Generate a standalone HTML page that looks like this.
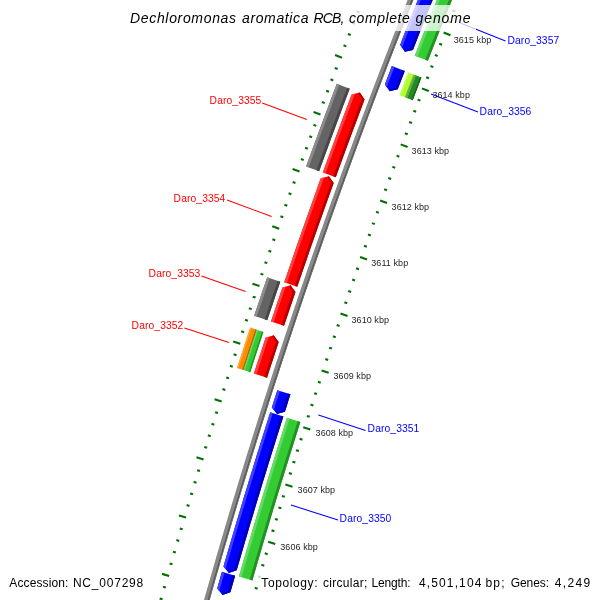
<!DOCTYPE html>
<html><head><meta charset="utf-8"><style>
html,body{margin:0;padding:0;background:#fff;}
svg{display:block;will-change:transform;}
text{font-family:"Liberation Sans",sans-serif;}
.tk{font-size:9px;fill:#1e1e1e;letter-spacing:0.07px;}
.lb{font-size:10.3px;letter-spacing:0.1px;}
.ti{font-size:14px;font-style:italic;fill:#000;}
.ft{font-size:12px;fill:#000;}
.acc{letter-spacing:0.48px;}
.topo{letter-spacing:0.68px;}
</style></head><body>
<svg width="600" height="600" viewBox="0 0 600 600">
<defs><clipPath id="c1"><path d="M439.24,-52.96 L436.89,-47.23 L434.54,-41.49 L432.21,-35.75 L429.88,-30.00 L427.55,-24.26 L425.23,-18.51 L422.92,-12.76 L420.61,-7.00 L418.31,-1.25 L416.01,4.51 L413.72,10.27 L411.44,16.03 L409.16,21.80 L406.89,27.57 L404.62,33.34 L402.36,39.11 L400.11,44.88 L404.80,51.85 L412.96,49.90 L415.21,44.13 L417.47,38.38 L419.73,32.62 L422.00,26.86 L424.27,21.11 L426.55,15.36 L428.83,9.62 L431.12,3.87 L433.42,-1.87 L435.72,-7.61 L438.03,-13.35 L440.35,-19.09 L442.67,-24.82 L444.99,-30.55 L447.32,-36.28 L449.66,-42.01 L452.00,-47.73 Z"/></clipPath><clipPath id="c2"><path d="M455.52,-46.29 L453.21,-40.64 L450.90,-34.99 L448.60,-29.34 L446.30,-23.68 L444.02,-18.02 L441.73,-12.36 L439.45,-6.70 L437.18,-1.04 L434.91,4.63 L432.65,10.30 L430.40,15.97 L428.15,21.64 L425.90,27.32 L423.66,33.00 L421.43,38.68 L419.21,44.36 L416.98,50.04 L414.77,55.73 L427.91,60.84 L430.12,55.17 L432.34,49.50 L434.56,43.83 L436.78,38.16 L439.02,32.50 L441.26,26.83 L443.50,21.17 L445.75,15.52 L448.01,9.86 L450.27,4.21 L452.54,-1.45 L454.81,-7.09 L457.09,-12.74 L459.37,-18.39 L461.66,-24.03 L463.96,-29.67 L466.26,-35.30 L468.57,-40.94 Z"/></clipPath><clipPath id="c3"><path d="M391.87,66.12 L389.53,72.21 L387.19,78.30 L384.86,84.39 L389.60,91.33 L397.75,89.32 L400.08,83.24 L402.41,77.16 L404.75,71.08 Z"/></clipPath><clipPath id="c4"><path d="M408.26,72.54 L406.08,78.19 L403.92,83.84 L401.75,89.49 L399.60,95.14 L406.18,97.65 L408.34,92.00 L410.50,86.36 L412.66,80.72 L414.84,75.08 Z"/></clipPath><clipPath id="c5"><path d="M414.84,75.08 L412.66,80.72 L410.50,86.36 L408.34,92.00 L406.18,97.65 L412.77,100.16 L414.92,94.52 L417.08,88.88 L419.24,83.25 L421.41,77.61 Z"/></clipPath><clipPath id="c6"><path d="M351.67,94.60 L359.83,92.54 L364.58,99.48 L362.33,105.45 L360.08,111.42 L357.84,117.40 L355.60,123.38 L353.37,129.36 L351.15,135.35 L348.93,141.34 L346.72,147.33 L344.52,153.32 L342.32,159.31 L340.13,165.31 L337.95,171.31 L335.77,177.31 L322.79,172.60 L324.98,166.59 L327.17,160.58 L329.36,154.57 L331.57,148.56 L333.78,142.56 L335.99,136.55 L338.21,130.55 L340.44,124.55 L342.67,118.56 L344.91,112.56 L347.16,106.57 L349.41,100.58 L351.67,94.60 Z"/></clipPath><clipPath id="c7"><path d="M336.73,83.79 L334.50,89.68 L332.28,95.58 L330.06,101.48 L327.85,107.39 L325.64,113.29 L323.44,119.20 L321.25,125.11 L319.06,131.02 L316.88,136.93 L314.70,142.85 L312.53,148.77 L310.37,154.69 L308.21,160.61 L306.06,166.54 L319.13,171.28 L321.27,165.36 L323.43,159.45 L325.59,153.55 L327.75,147.64 L329.92,141.74 L332.10,135.84 L334.28,129.94 L336.47,124.04 L338.66,118.15 L340.86,112.26 L343.07,106.37 L345.28,100.48 L347.50,94.59 L349.73,88.71 Z"/></clipPath><clipPath id="c8"><path d="M320.71,178.36 L328.84,176.18 L333.69,183.05 L331.62,188.79 L329.55,194.54 L327.49,200.29 L325.44,206.04 L323.39,211.79 L321.34,217.55 L319.30,223.30 L317.27,229.06 L315.25,234.82 L313.23,240.59 L311.21,246.35 L309.20,252.12 L307.20,257.89 L305.20,263.66 L303.21,269.43 L301.22,275.20 L299.24,280.98 L297.27,286.76 L284.21,282.31 L286.19,276.51 L288.17,270.72 L290.16,264.94 L292.16,259.15 L294.16,253.37 L296.17,247.58 L298.18,241.80 L300.20,236.03 L302.23,230.25 L304.26,224.48 L306.29,218.70 L308.34,212.93 L310.38,207.17 L312.44,201.40 L314.50,195.64 L316.56,189.88 L318.63,184.12 L320.71,178.36 Z"/></clipPath><clipPath id="c9"><path d="M282.43,287.53 L290.51,285.20 L295.49,291.97 L293.20,298.74 L290.91,305.51 L288.62,312.29 L286.35,319.06 L284.08,325.84 L270.99,321.48 L273.26,314.68 L275.54,307.89 L277.83,301.10 L280.13,294.31 L282.43,287.53 Z"/></clipPath><clipPath id="c10"><path d="M267.13,277.23 L264.94,283.66 L262.76,290.09 L260.59,296.52 L258.42,302.96 L256.26,309.40 L254.11,315.84 L267.29,320.24 L269.44,313.81 L271.60,307.39 L273.76,300.97 L275.93,294.55 L278.11,288.13 L280.29,281.71 Z"/></clipPath><clipPath id="c11"><path d="M265.59,337.76 L273.65,335.36 L278.69,342.09 L276.73,348.03 L274.78,353.98 L272.83,359.92 L270.89,365.87 L268.95,371.82 L267.02,377.77 L253.89,373.52 L255.82,367.56 L257.77,361.59 L259.71,355.63 L261.66,349.67 L263.62,343.71 L265.59,337.76 Z"/></clipPath><clipPath id="c12"><path d="M250.20,327.59 L248.30,333.35 L246.40,339.11 L244.50,344.87 L242.62,350.64 L240.73,356.41 L238.86,362.17 L236.99,367.94 L243.60,370.08 L245.47,364.32 L247.34,358.56 L249.22,352.80 L251.11,347.04 L253.00,341.28 L254.90,335.53 L256.80,329.77 Z"/></clipPath><clipPath id="c13"><path d="M256.80,329.77 L254.90,335.53 L253.00,341.28 L251.11,347.04 L249.22,352.80 L247.34,358.56 L245.47,364.32 L243.60,370.08 L250.21,372.23 L252.08,366.47 L253.95,360.71 L255.83,354.96 L257.71,349.21 L259.60,343.46 L261.50,337.71 L263.40,331.96 Z"/></clipPath><clipPath id="c14"><path d="M277.32,390.13 L275.46,395.90 L273.62,401.67 L271.77,407.45 L276.89,414.11 L284.92,411.64 L286.76,405.88 L288.60,400.12 L290.46,394.36 Z"/></clipPath><clipPath id="c15"><path d="M270.26,412.21 L268.38,418.12 L266.51,424.03 L264.65,429.94 L262.79,435.86 L260.94,441.78 L259.09,447.70 L257.25,453.62 L255.42,459.54 L253.59,465.47 L251.77,471.39 L249.96,477.32 L248.15,483.25 L246.34,489.19 L244.55,495.12 L242.76,501.06 L240.97,507.00 L239.19,512.94 L237.42,518.88 L235.65,524.82 L233.89,530.77 L232.14,536.71 L230.39,542.66 L228.64,548.61 L226.91,554.57 L225.18,560.52 L223.45,566.48 L228.75,572.99 L236.71,570.31 L238.43,564.37 L240.16,558.42 L241.89,552.49 L243.63,546.55 L245.37,540.61 L247.12,534.68 L248.88,528.75 L250.64,522.82 L252.41,516.89 L254.19,510.96 L255.97,505.04 L257.76,499.11 L259.55,493.19 L261.35,487.27 L263.15,481.36 L264.96,475.44 L266.78,469.53 L268.61,463.61 L270.43,457.70 L272.27,451.80 L274.11,445.89 L275.96,439.99 L277.81,434.08 L279.67,428.18 L281.54,422.28 L283.41,416.39 Z"/></clipPath><clipPath id="c16"><path d="M286.97,417.73 L285.11,423.59 L283.26,429.45 L281.41,435.31 L279.57,441.17 L277.73,447.04 L275.91,452.90 L274.08,458.77 L272.27,464.64 L270.45,470.52 L268.65,476.39 L266.85,482.27 L265.06,488.14 L263.27,494.02 L261.49,499.91 L259.71,505.79 L257.94,511.67 L256.18,517.56 L254.42,523.45 L252.67,529.34 L250.92,535.23 L249.18,541.13 L247.45,547.02 L245.72,552.92 L244.00,558.82 L242.28,564.72 L240.57,570.63 L238.87,576.53 L252.42,580.43 L254.12,574.54 L255.82,568.65 L257.54,562.77 L259.25,556.88 L260.98,551.00 L262.71,545.11 L264.44,539.23 L266.19,533.35 L267.93,527.48 L269.69,521.60 L271.45,515.73 L273.21,509.86 L274.98,503.99 L276.76,498.12 L278.54,492.25 L280.33,486.39 L282.13,480.52 L283.93,474.66 L285.74,468.80 L287.55,462.95 L289.37,457.09 L291.19,451.24 L293.02,445.39 L294.86,439.54 L296.70,433.69 L298.55,427.84 L300.41,422.00 Z"/></clipPath><clipPath id="c17"><path d="M221.90,571.85 L219.52,580.16 L217.14,588.46 L222.47,594.96 L230.41,592.25 L232.78,583.96 L235.16,575.67 Z"/></clipPath></defs>
<rect width="600" height="600" fill="#fff"/>
<path d="M422.89,-38.04 L420.63,-32.48 L418.38,-26.92 L416.13,-21.35 L413.89,-15.78 L411.66,-10.21 L409.43,-4.63 L407.21,0.94 L404.99,6.52 L402.78,12.10 L400.57,17.68 L398.37,23.27 L396.18,28.85 L393.98,34.44 L391.80,40.03 L389.62,45.63 L387.45,51.22 L385.28,56.82 L383.12,62.42 L380.96,68.02 L378.81,73.62 L376.66,79.23 L374.52,84.84 L372.39,90.45 L370.26,96.06 L368.13,101.67 L366.01,107.29 L363.90,112.91 L361.79,118.53 L359.69,124.15 L357.59,129.78 L355.50,135.40 L353.42,141.03 L351.34,146.66 L349.26,152.30 L347.20,157.93 L345.13,163.57 L343.07,169.21 L341.02,174.85 L338.98,180.49 L336.93,186.14 L334.90,191.78 L332.87,197.43 L330.85,203.08 L328.83,208.74 L326.81,214.39 L324.81,220.05 L322.80,225.71 L320.81,231.37 L318.82,237.03 L316.83,242.70 L314.85,248.36 L312.88,254.03 L310.91,259.70 L308.95,265.37 L306.99,271.05 L305.04,276.73 L303.09,282.40 L301.15,288.08 L299.21,293.77 L297.28,299.45 L295.36,305.14 L293.44,310.82 L291.53,316.51 L289.62,322.21 L287.72,327.90 L285.82,333.59 L283.93,339.29 L282.05,344.99 L280.17,350.69 L278.30,356.39 L276.43,362.10 L274.57,367.81 L272.71,373.51 L270.86,379.22 L269.01,384.94 L267.17,390.65 L265.34,396.37 L263.51,402.08 L261.69,407.80 L259.87,413.52 L258.06,419.25 L256.25,424.97 L254.45,430.70 L252.66,436.42 L250.87,442.15 L249.09,447.89 L247.31,453.62 L245.54,459.35 L243.77,465.09 L242.01,470.83 L240.25,476.57 L238.50,482.31 L236.76,488.06 L235.02,493.80 L233.29,499.55 L231.56,505.30 L229.84,511.05 L228.12,516.80 L226.41,522.55 L224.71,528.31 L223.01,534.07 L221.32,539.83 L219.63,545.59 L217.95,551.35 L216.27,557.11 L214.60,562.88 L212.94,568.65 L211.28,574.41 L209.63,580.18 L207.98,585.96 L206.34,591.73 L204.70,597.51 L203.07,603.28 L201.44,609.06 L199.83,614.84 L198.21,620.62 L196.60,626.41 L195.00,632.19 L193.40,637.98 L191.81,643.77 L197.02,645.19 L198.61,639.41 L200.21,633.63 L201.81,627.85 L203.41,622.07 L205.03,616.30 L206.64,610.52 L208.27,604.75 L209.90,598.98 L211.53,593.20 L213.17,587.44 L214.82,581.67 L216.47,575.90 L218.13,570.14 L219.79,564.38 L221.46,558.62 L223.13,552.86 L224.81,547.10 L226.50,541.35 L228.19,535.59 L229.89,529.84 L231.59,524.09 L233.30,518.34 L235.01,512.59 L236.73,506.85 L238.46,501.10 L240.19,495.36 L241.93,489.62 L243.67,483.88 L245.42,478.15 L247.17,472.41 L248.93,466.68 L250.70,460.95 L252.47,455.22 L254.24,449.49 L256.02,443.76 L257.81,438.04 L259.61,432.31 L261.40,426.59 L263.21,420.87 L265.02,415.16 L266.83,409.44 L268.66,403.73 L270.48,398.01 L272.31,392.30 L274.15,386.59 L276.00,380.89 L277.85,375.18 L279.70,369.48 L281.56,363.78 L283.43,358.08 L285.30,352.38 L287.18,346.68 L289.06,340.99 L290.95,335.30 L292.84,329.61 L294.74,323.92 L296.65,318.23 L298.56,312.55 L300.48,306.86 L302.40,301.18 L304.33,295.50 L306.26,289.83 L308.20,284.15 L310.14,278.48 L312.09,272.81 L314.05,267.14 L316.01,261.47 L317.98,255.80 L319.95,250.14 L321.93,244.48 L323.91,238.82 L325.90,233.16 L327.90,227.51 L329.90,221.85 L331.90,216.20 L333.91,210.55 L335.93,204.90 L337.95,199.26 L339.98,193.61 L342.01,187.97 L344.05,182.33 L346.10,176.69 L348.15,171.06 L350.20,165.42 L352.27,159.79 L354.33,154.16 L356.40,148.53 L358.48,142.91 L360.57,137.28 L362.66,131.66 L364.75,126.04 L366.85,120.42 L368.96,114.81 L371.07,109.19 L373.18,103.58 L375.31,97.97 L377.43,92.37 L379.57,86.76 L381.71,81.16 L383.85,75.56 L386.00,69.96 L388.15,64.36 L390.32,58.77 L392.48,53.17 L394.65,47.58 L396.83,42.00 L399.01,36.41 L401.20,30.83 L403.40,25.24 L405.59,19.66 L407.80,14.09 L410.01,8.51 L412.23,2.94 L414.45,-2.63 L416.67,-8.20 L418.91,-13.77 L421.14,-19.33 L423.39,-24.89 L425.63,-30.45 L427.89,-36.01 Z" fill="#888888"/>
<path d="M426.22,-36.69 L423.97,-31.13 L421.72,-25.57 L419.47,-20.00 L417.24,-14.44 L415.00,-8.87 L412.78,-3.30 L410.55,2.27 L408.34,7.85 L406.13,13.43 L403.92,19.00 L401.72,24.59 L399.53,30.17 L397.34,35.75 L395.15,41.34 L392.98,46.93 L390.80,52.52 L388.64,58.12 L386.48,63.71 L384.32,69.31 L382.17,74.91 L380.02,80.52 L377.88,86.12 L375.75,91.73 L373.62,97.34 L371.50,102.95 L369.38,108.56 L367.27,114.17 L365.16,119.79 L363.06,125.41 L360.97,131.03 L358.88,136.66 L356.79,142.28 L354.72,147.91 L352.64,153.54 L350.58,159.17 L348.51,164.80 L346.46,170.44 L344.41,176.08 L342.36,181.72 L340.32,187.36 L338.29,193.00 L336.26,198.65 L334.23,204.30 L332.22,209.95 L330.21,215.60 L328.20,221.25 L326.20,226.91 L324.20,232.56 L322.21,238.22 L320.23,243.88 L318.25,249.55 L316.28,255.21 L314.31,260.88 L312.35,266.55 L310.39,272.22 L308.44,277.89 L306.50,283.57 L304.56,289.25 L302.62,294.93 L300.69,300.61 L298.77,306.29 L296.85,311.97 L294.94,317.66 L293.04,323.35 L291.14,329.04 L289.24,334.73 L287.35,340.42 L285.47,346.12 L283.59,351.82 L281.72,357.52 L279.85,363.22 L277.99,368.92 L276.13,374.63 L274.28,380.33 L272.44,386.04 L270.60,391.75 L268.77,397.46 L266.94,403.18 L265.12,408.89 L263.30,414.61 L261.49,420.33 L259.69,426.05 L257.89,431.77 L256.09,437.50 L254.31,443.23 L252.52,448.95 L250.75,454.68 L248.98,460.42 L247.21,466.15 L245.45,471.88 L243.70,477.62 L241.95,483.36 L240.20,489.10 L238.47,494.84 L236.74,500.59 L235.01,506.33 L233.29,512.08 L231.57,517.83 L229.87,523.58 L228.16,529.33 L226.46,535.08 L224.77,540.84 L223.09,546.60 L221.41,552.36 L219.73,558.12 L218.06,563.88 L216.40,569.64 L214.74,575.41 L213.09,581.17 L211.44,586.94 L209.80,592.71 L208.16,598.49 L206.53,604.26 L204.91,610.03 L203.29,615.81 L201.68,621.59 L200.07,627.37 L198.47,633.15 L196.88,638.93 L195.29,644.72 L196.44,645.04 L198.03,639.25 L199.63,633.47 L201.23,627.69 L202.84,621.91 L204.45,616.13 L206.07,610.36 L207.69,604.58 L209.32,598.81 L210.95,593.04 L212.59,587.27 L214.24,581.50 L215.89,575.74 L217.55,569.97 L219.21,564.21 L220.88,558.45 L222.56,552.69 L224.24,546.93 L225.92,541.18 L227.62,535.42 L229.31,529.67 L231.02,523.92 L232.72,518.17 L234.44,512.42 L236.16,506.68 L237.88,500.93 L239.62,495.19 L241.35,489.45 L243.10,483.71 L244.84,477.97 L246.60,472.24 L248.36,466.50 L250.12,460.77 L251.89,455.04 L253.67,449.31 L255.45,443.58 L257.24,437.86 L259.03,432.13 L260.83,426.41 L262.64,420.69 L264.45,414.97 L266.26,409.26 L268.08,403.54 L269.91,397.83 L271.74,392.12 L273.58,386.41 L275.43,380.70 L277.28,375.00 L279.13,369.29 L280.99,363.59 L282.86,357.89 L284.73,352.19 L286.61,346.50 L288.49,340.80 L290.38,335.11 L292.27,329.42 L294.17,323.73 L296.08,318.04 L297.99,312.36 L299.91,306.67 L301.83,300.99 L303.76,295.31 L305.69,289.63 L307.63,283.96 L309.58,278.28 L311.53,272.61 L313.48,266.94 L315.44,261.27 L317.41,255.61 L319.38,249.94 L321.36,244.28 L323.35,238.62 L325.33,232.96 L327.33,227.31 L329.33,221.65 L331.34,216.00 L333.35,210.35 L335.36,204.70 L337.39,199.05 L339.42,193.41 L341.45,187.77 L343.49,182.13 L345.53,176.49 L347.58,170.85 L349.64,165.22 L351.70,159.58 L353.77,153.95 L355.84,148.32 L357.92,142.70 L360.00,137.07 L362.09,131.45 L364.19,125.83 L366.29,120.21 L368.39,114.60 L370.51,108.98 L372.62,103.37 L374.74,97.76 L376.87,92.15 L379.01,86.55 L381.14,80.94 L383.29,75.34 L385.44,69.74 L387.59,64.15 L389.76,58.55 L391.92,52.96 L394.09,47.37 L396.27,41.78 L398.45,36.19 L400.64,30.61 L402.84,25.02 L405.04,19.44 L407.24,13.87 L409.45,8.29 L411.67,2.72 L413.89,-2.85 L416.12,-8.42 L418.35,-13.99 L420.59,-19.56 L422.83,-25.12 L425.08,-30.68 L427.33,-36.24 Z" fill="#555555"/>
<path d="M427.33,-36.24 L425.08,-30.68 L422.83,-25.12 L420.59,-19.56 L418.35,-13.99 L416.12,-8.42 L413.89,-2.85 L411.67,2.72 L409.45,8.29 L407.24,13.87 L405.04,19.44 L402.84,25.02 L400.64,30.61 L398.45,36.19 L396.27,41.78 L394.09,47.37 L391.92,52.96 L389.76,58.55 L387.59,64.15 L385.44,69.74 L383.29,75.34 L381.14,80.94 L379.01,86.55 L376.87,92.15 L374.74,97.76 L372.62,103.37 L370.51,108.98 L368.39,114.60 L366.29,120.21 L364.19,125.83 L362.09,131.45 L360.00,137.07 L357.92,142.70 L355.84,148.32 L353.77,153.95 L351.70,159.58 L349.64,165.22 L347.58,170.85 L345.53,176.49 L343.49,182.13 L341.45,187.77 L339.42,193.41 L337.39,199.05 L335.36,204.70 L333.35,210.35 L331.34,216.00 L329.33,221.65 L327.33,227.31 L325.33,232.96 L323.35,238.62 L321.36,244.28 L319.38,249.94 L317.41,255.61 L315.44,261.27 L313.48,266.94 L311.53,272.61 L309.58,278.28 L307.63,283.96 L305.69,289.63 L303.76,295.31 L301.83,300.99 L299.91,306.67 L297.99,312.36 L296.08,318.04 L294.17,323.73 L292.27,329.42 L290.38,335.11 L288.49,340.80 L286.61,346.50 L284.73,352.19 L282.86,357.89 L280.99,363.59 L279.13,369.29 L277.28,375.00 L275.43,380.70 L273.58,386.41 L271.74,392.12 L269.91,397.83 L268.08,403.54 L266.26,409.26 L264.45,414.97 L262.64,420.69 L260.83,426.41 L259.03,432.13 L257.24,437.86 L255.45,443.58 L253.67,449.31 L251.89,455.04 L250.12,460.77 L248.36,466.50 L246.60,472.24 L244.84,477.97 L243.10,483.71 L241.35,489.45 L239.62,495.19 L237.88,500.93 L236.16,506.68 L234.44,512.42 L232.72,518.17 L231.02,523.92 L229.31,529.67 L227.62,535.42 L225.92,541.18 L224.24,546.93 L222.56,552.69 L220.88,558.45 L219.21,564.21 L217.55,569.97 L215.89,575.74 L214.24,581.50 L212.59,587.27 L210.95,593.04 L209.32,598.81 L207.69,604.58 L206.07,610.36 L204.45,616.13 L202.84,621.91 L201.23,627.69 L199.63,633.47 L198.03,639.25 L196.44,645.04 L197.02,645.19 L198.61,639.41 L200.21,633.63 L201.81,627.85 L203.41,622.07 L205.03,616.30 L206.64,610.52 L208.27,604.75 L209.90,598.98 L211.53,593.20 L213.17,587.44 L214.82,581.67 L216.47,575.90 L218.13,570.14 L219.79,564.38 L221.46,558.62 L223.13,552.86 L224.81,547.10 L226.50,541.35 L228.19,535.59 L229.89,529.84 L231.59,524.09 L233.30,518.34 L235.01,512.59 L236.73,506.85 L238.46,501.10 L240.19,495.36 L241.93,489.62 L243.67,483.88 L245.42,478.15 L247.17,472.41 L248.93,466.68 L250.70,460.95 L252.47,455.22 L254.24,449.49 L256.02,443.76 L257.81,438.04 L259.61,432.31 L261.40,426.59 L263.21,420.87 L265.02,415.16 L266.83,409.44 L268.66,403.73 L270.48,398.01 L272.31,392.30 L274.15,386.59 L276.00,380.89 L277.85,375.18 L279.70,369.48 L281.56,363.78 L283.43,358.08 L285.30,352.38 L287.18,346.68 L289.06,340.99 L290.95,335.30 L292.84,329.61 L294.74,323.92 L296.65,318.23 L298.56,312.55 L300.48,306.86 L302.40,301.18 L304.33,295.50 L306.26,289.83 L308.20,284.15 L310.14,278.48 L312.09,272.81 L314.05,267.14 L316.01,261.47 L317.98,255.80 L319.95,250.14 L321.93,244.48 L323.91,238.82 L325.90,233.16 L327.90,227.51 L329.90,221.85 L331.90,216.20 L333.91,210.55 L335.93,204.90 L337.95,199.26 L339.98,193.61 L342.01,187.97 L344.05,182.33 L346.10,176.69 L348.15,171.06 L350.20,165.42 L352.27,159.79 L354.33,154.16 L356.40,148.53 L358.48,142.91 L360.57,137.28 L362.66,131.66 L364.75,126.04 L366.85,120.42 L368.96,114.81 L371.07,109.19 L373.18,103.58 L375.31,97.97 L377.43,92.37 L379.57,86.76 L381.71,81.16 L383.85,75.56 L386.00,69.96 L388.15,64.36 L390.32,58.77 L392.48,53.17 L394.65,47.58 L396.83,42.00 L399.01,36.41 L401.20,30.83 L403.40,25.24 L405.59,19.66 L407.80,14.09 L410.01,8.51 L412.23,2.94 L414.45,-2.63 L416.67,-8.20 L418.91,-13.77 L421.14,-19.33 L423.39,-24.89 L425.63,-30.45 L427.89,-36.01 Z" fill="#6a6a6a"/>
<g stroke="#007000" stroke-width="2.1"><line x1="359.54" y1="12.44" x2="356.75" y2="11.34"/><line x1="355.11" y1="23.75" x2="352.32" y2="22.65"/><line x1="350.71" y1="35.06" x2="347.91" y2="33.98"/><line x1="346.32" y1="46.38" x2="343.52" y2="45.30"/><line x1="341.96" y1="57.72" x2="335.05" y2="55.07"/><line x1="337.62" y1="69.06" x2="334.82" y2="67.99"/><line x1="333.30" y1="80.41" x2="330.50" y2="79.34"/><line x1="329.01" y1="91.77" x2="326.20" y2="90.71"/><line x1="324.74" y1="103.13" x2="321.93" y2="102.08"/><line x1="320.49" y1="114.51" x2="313.56" y2="111.92"/><line x1="316.26" y1="125.89" x2="313.45" y2="124.85"/><line x1="312.06" y1="137.28" x2="309.24" y2="136.25"/><line x1="307.88" y1="148.68" x2="305.06" y2="147.65"/><line x1="303.72" y1="160.09" x2="300.90" y2="159.07"/><line x1="299.58" y1="171.51" x2="292.62" y2="168.99"/><line x1="295.47" y1="182.93" x2="292.65" y2="181.92"/><line x1="291.38" y1="194.36" x2="288.55" y2="193.36"/><line x1="287.31" y1="205.80" x2="284.48" y2="204.80"/><line x1="283.26" y1="217.25" x2="280.43" y2="216.26"/><line x1="279.24" y1="228.71" x2="272.26" y2="226.26"/><line x1="275.24" y1="240.17" x2="272.41" y2="239.19"/><line x1="271.26" y1="251.65" x2="268.43" y2="250.67"/><line x1="267.31" y1="263.13" x2="264.47" y2="262.15"/><line x1="263.37" y1="274.62" x2="260.53" y2="273.65"/><line x1="259.46" y1="286.11" x2="252.46" y2="283.74"/><line x1="255.58" y1="297.62" x2="252.73" y2="296.66"/><line x1="251.71" y1="309.13" x2="248.87" y2="308.17"/><line x1="247.87" y1="320.65" x2="245.02" y2="319.70"/><line x1="244.05" y1="332.17" x2="241.20" y2="331.23"/><line x1="240.26" y1="343.71" x2="233.23" y2="341.40"/><line x1="236.48" y1="355.25" x2="233.63" y2="354.32"/><line x1="232.73" y1="366.80" x2="229.88" y2="365.87"/><line x1="229.01" y1="378.35" x2="226.15" y2="377.43"/><line x1="225.30" y1="389.92" x2="222.44" y2="389.00"/><line x1="221.62" y1="401.49" x2="214.57" y2="399.25"/><line x1="217.96" y1="413.07" x2="215.10" y2="412.16"/><line x1="214.32" y1="424.65" x2="211.46" y2="423.76"/><line x1="210.71" y1="436.24" x2="207.85" y2="435.35"/><line x1="207.12" y1="447.84" x2="204.25" y2="446.96"/><line x1="203.55" y1="459.45" x2="196.48" y2="457.28"/><line x1="200.01" y1="471.06" x2="197.14" y2="470.19"/><line x1="196.49" y1="482.69" x2="193.62" y2="481.82"/><line x1="192.99" y1="494.31" x2="190.12" y2="493.45"/><line x1="189.52" y1="505.95" x2="186.64" y2="505.09"/><line x1="186.06" y1="517.59" x2="178.97" y2="515.49"/><line x1="182.63" y1="529.24" x2="179.76" y2="528.39"/><line x1="179.23" y1="540.89" x2="176.35" y2="540.05"/><line x1="175.84" y1="552.55" x2="172.96" y2="551.72"/><line x1="172.48" y1="564.22" x2="169.60" y2="563.40"/><line x1="169.15" y1="575.90" x2="162.03" y2="573.87"/><line x1="165.83" y1="587.58" x2="162.95" y2="586.76"/><line x1="162.54" y1="599.27" x2="159.65" y2="598.46"/><line x1="159.28" y1="610.96" x2="156.39" y2="610.16"/><line x1="156.03" y1="622.66" x2="153.14" y2="621.87"/><line x1="452.45" y1="10.34" x2="455.23" y2="11.46"/><line x1="448.01" y1="21.47" x2="450.80" y2="22.57"/><line x1="443.60" y1="32.60" x2="450.48" y2="35.32"/><line x1="439.21" y1="43.74" x2="442.01" y2="44.83"/><line x1="434.85" y1="54.89" x2="437.64" y2="55.98"/><line x1="430.50" y1="66.04" x2="433.30" y2="67.13"/><line x1="426.18" y1="77.21" x2="428.98" y2="78.29"/><line x1="421.88" y1="88.38" x2="428.79" y2="91.03"/><line x1="417.60" y1="99.57" x2="420.40" y2="100.63"/><line x1="413.34" y1="110.76" x2="416.15" y2="111.82"/><line x1="409.11" y1="121.96" x2="411.92" y2="123.01"/><line x1="404.90" y1="133.16" x2="407.71" y2="134.22"/><line x1="400.71" y1="144.38" x2="407.64" y2="146.96"/><line x1="396.54" y1="155.61" x2="399.35" y2="156.65"/><line x1="392.40" y1="166.84" x2="395.21" y2="167.87"/><line x1="388.27" y1="178.08" x2="391.09" y2="179.11"/><line x1="384.17" y1="189.33" x2="386.99" y2="190.35"/><line x1="380.09" y1="200.59" x2="387.05" y2="203.10"/><line x1="376.04" y1="211.85" x2="378.86" y2="212.87"/><line x1="372.00" y1="223.12" x2="374.83" y2="224.13"/><line x1="367.99" y1="234.41" x2="370.82" y2="235.41"/><line x1="364.00" y1="245.70" x2="366.83" y2="246.69"/><line x1="360.03" y1="256.99" x2="367.02" y2="259.44"/><line x1="356.09" y1="268.30" x2="358.92" y2="269.28"/><line x1="352.17" y1="279.61" x2="355.00" y2="280.59"/><line x1="348.27" y1="290.93" x2="351.10" y2="291.90"/><line x1="344.39" y1="302.26" x2="347.23" y2="303.23"/><line x1="340.53" y1="313.59" x2="347.54" y2="315.97"/><line x1="336.70" y1="324.94" x2="339.54" y2="325.89"/><line x1="332.89" y1="336.29" x2="335.73" y2="337.24"/><line x1="329.10" y1="347.65" x2="331.95" y2="348.59"/><line x1="325.34" y1="359.01" x2="328.18" y2="359.95"/><line x1="321.59" y1="370.39" x2="328.62" y2="372.69"/><line x1="317.87" y1="381.77" x2="320.72" y2="382.70"/><line x1="314.17" y1="393.15" x2="317.03" y2="394.08"/><line x1="310.50" y1="404.55" x2="313.36" y2="405.47"/><line x1="306.85" y1="415.95" x2="309.70" y2="416.86"/><line x1="303.22" y1="427.36" x2="310.27" y2="429.60"/><line x1="299.61" y1="438.78" x2="302.47" y2="439.68"/><line x1="296.02" y1="450.20" x2="298.89" y2="451.10"/><line x1="292.46" y1="461.63" x2="295.32" y2="462.52"/><line x1="288.92" y1="473.07" x2="291.79" y2="473.96"/><line x1="285.40" y1="484.52" x2="292.48" y2="486.68"/><line x1="281.91" y1="495.97" x2="284.78" y2="496.84"/><line x1="278.44" y1="507.43" x2="281.31" y2="508.29"/><line x1="274.99" y1="518.89" x2="277.86" y2="519.75"/><line x1="271.56" y1="530.37" x2="274.43" y2="531.22"/><line x1="268.16" y1="541.85" x2="275.25" y2="543.94"/><line x1="264.77" y1="553.33" x2="267.65" y2="554.18"/><line x1="261.41" y1="564.82" x2="264.30" y2="565.66"/><line x1="258.08" y1="576.32" x2="260.96" y2="577.16"/><line x1="254.77" y1="587.83" x2="257.65" y2="588.66"/></g>
<g clip-path="url(#c1)"><path d="M441.35,-60.74 L439.06,-55.18 L436.78,-49.62 L434.51,-44.06 L432.24,-38.49 L429.98,-32.93 L427.73,-27.36 L425.48,-21.79 L423.23,-16.21 L420.99,-10.64 L418.76,-5.06 L416.53,0.52 L414.30,6.10 L412.09,11.69 L409.87,17.27 L407.67,22.86 L405.47,28.45 L403.27,34.04 L401.08,39.64 L398.89,45.24 L396.71,50.84 L394.54,56.44 L409.27,62.15 L411.44,56.56 L413.62,50.97 L415.79,45.39 L417.98,39.81 L420.17,34.23 L422.36,28.66 L424.57,23.08 L426.77,17.51 L428.98,11.94 L431.20,6.37 L433.43,0.81 L435.65,-4.76 L437.89,-10.32 L440.13,-15.88 L442.37,-21.43 L444.62,-26.99 L446.88,-32.54 L449.14,-38.09 L451.41,-43.64 L453.68,-49.18 L455.96,-54.72 Z" fill="#0000ff"/><path d="M441.35,-60.74 L439.06,-55.18 L436.78,-49.62 L434.51,-44.06 L432.24,-38.49 L429.98,-32.93 L427.73,-27.36 L425.48,-21.79 L423.23,-16.21 L420.99,-10.64 L418.76,-5.06 L416.53,0.52 L414.30,6.10 L412.09,11.69 L409.87,17.27 L407.67,22.86 L405.47,28.45 L403.27,34.04 L401.08,39.64 L398.89,45.24 L396.71,50.84 L394.54,56.44 L398.05,57.80 L400.22,52.20 L402.40,46.60 L404.58,41.01 L406.77,35.42 L408.96,29.83 L411.16,24.24 L413.37,18.66 L415.58,13.07 L417.80,7.49 L420.02,1.91 L422.25,-3.66 L424.48,-9.24 L426.72,-14.81 L428.96,-20.38 L431.21,-25.95 L433.47,-31.51 L435.73,-37.08 L437.99,-42.64 L440.26,-48.20 L442.54,-53.75 L444.82,-59.31 Z" fill="#4040ff"/><path d="M455.96,-54.72 L455.96,-54.72 L453.57,-48.91 L451.19,-43.10 L448.81,-37.28 L446.44,-31.46 L444.08,-25.64 L441.72,-19.82 L439.37,-13.99 L437.02,-8.16 L434.68,-2.33 L432.35,3.50 L430.02,9.34 L427.70,15.18 L425.38,21.02 L423.07,26.86 L420.77,32.71 L418.47,38.56 L416.18,44.41 L413.89,50.26 L404.43,52.78 L404.41,50.24 L410.43,48.80 L410.43,48.80 L412.71,42.95 L415.00,37.10 L417.30,31.26 L419.60,25.41 L421.91,19.57 L424.23,13.73 L426.55,7.89 L428.88,2.06 L431.21,-3.77 L433.55,-9.60 L435.89,-15.43 L438.25,-21.26 L440.60,-27.08 L442.97,-32.90 L445.34,-38.72 L447.71,-44.53 L450.09,-50.34 L452.48,-56.16 Z" fill="#0000b2"/></g>
<g clip-path="url(#c2)"><path d="M457.62,-54.04 L455.35,-48.50 L453.07,-42.95 L450.81,-37.41 L448.55,-31.86 L446.29,-26.31 L444.04,-20.76 L441.80,-15.20 L439.56,-9.64 L437.32,-4.09 L435.10,1.48 L432.87,7.04 L430.66,12.61 L428.45,18.17 L426.24,23.74 L424.04,29.32 L421.84,34.89 L419.66,40.47 L417.47,46.05 L415.29,51.63 L413.12,57.21 L410.95,62.80 L425.96,68.61 L428.13,63.04 L430.29,57.48 L432.47,51.91 L434.64,46.34 L436.83,40.78 L439.02,35.22 L441.21,29.67 L443.41,24.11 L445.62,18.56 L447.83,13.01 L450.05,7.46 L452.27,1.91 L454.49,-3.64 L456.73,-9.18 L458.97,-14.72 L461.21,-20.26 L463.46,-25.79 L465.71,-31.33 L467.97,-36.86 L470.24,-42.39 L472.51,-47.91 Z" fill="#33cc33"/><path d="M457.62,-54.04 L455.35,-48.50 L453.07,-42.95 L450.81,-37.41 L448.55,-31.86 L446.29,-26.31 L444.04,-20.76 L441.80,-15.20 L439.56,-9.64 L437.32,-4.09 L435.10,1.48 L432.87,7.04 L430.66,12.61 L428.45,18.17 L426.24,23.74 L424.04,29.32 L421.84,34.89 L419.66,40.47 L417.47,46.05 L415.29,51.63 L413.12,57.21 L410.95,62.80 L414.51,64.18 L416.68,58.60 L418.85,53.02 L421.03,47.44 L423.21,41.86 L425.40,36.29 L427.59,30.72 L429.79,25.15 L432.00,19.58 L434.21,14.02 L436.42,8.46 L438.64,2.90 L440.87,-2.66 L443.10,-8.22 L445.34,-13.77 L447.58,-19.32 L449.83,-24.87 L452.08,-30.42 L454.34,-35.96 L456.61,-41.51 L458.88,-47.05 L461.16,-52.59 Z" fill="#66d966"/><path d="M468.98,-49.37 L466.71,-43.84 L464.44,-38.30 L462.18,-32.77 L459.92,-27.23 L457.67,-21.69 L455.42,-16.15 L453.19,-10.61 L450.95,-5.06 L448.72,0.49 L446.50,6.04 L444.28,11.59 L442.07,17.14 L439.86,22.70 L437.66,28.26 L435.46,33.82 L433.27,39.39 L431.09,44.95 L428.91,50.52 L426.73,56.09 L424.57,61.66 L422.40,67.23 L425.96,68.61 L428.13,63.04 L430.29,57.48 L432.47,51.91 L434.64,46.34 L436.83,40.78 L439.02,35.22 L441.21,29.67 L443.41,24.11 L445.62,18.56 L447.83,13.01 L450.05,7.46 L452.27,1.91 L454.49,-3.64 L456.73,-9.18 L458.97,-14.72 L461.21,-20.26 L463.46,-25.79 L465.71,-31.33 L467.97,-36.86 L470.24,-42.39 L472.51,-47.91 Z" fill="#248f24"/></g>
<g clip-path="url(#c3)"><path d="M393.82,58.30 L391.39,64.58 L388.98,70.85 L386.57,77.13 L384.16,83.42 L381.76,89.70 L379.37,95.99 L394.15,101.60 L396.53,95.32 L398.92,89.05 L401.32,82.79 L403.72,76.52 L406.14,70.26 L408.55,64.01 Z" fill="#0000ff"/><path d="M393.82,58.30 L391.39,64.58 L388.98,70.85 L386.57,77.13 L384.16,83.42 L381.76,89.70 L379.37,95.99 L382.89,97.32 L385.28,91.04 L387.67,84.76 L390.08,78.48 L392.49,72.20 L394.90,65.93 L397.33,59.66 Z" fill="#4040ff"/><path d="M408.55,64.01 L408.55,64.01 L406.08,70.42 L403.60,76.83 L401.14,83.25 L398.68,89.68 L389.24,92.26 L389.20,89.73 L395.21,88.24 L395.21,88.24 L397.66,81.84 L400.11,75.44 L402.58,69.04 L405.05,62.65 Z" fill="#0000b2"/></g>
<g clip-path="url(#c4)"><path d="M410.20,64.75 L407.78,70.99 L405.38,77.23 L402.98,83.48 L400.59,89.73 L398.21,95.98 L395.83,102.23 L404.29,105.45 L406.66,99.20 L409.04,92.96 L411.43,86.72 L413.83,80.48 L416.23,74.25 L418.64,68.02 Z" fill="#adff2f"/><path d="M410.20,64.75 L407.78,70.99 L405.38,77.23 L402.98,83.48 L400.59,89.73 L398.21,95.98 L395.83,102.23 L398.08,103.09 L400.46,96.84 L402.84,90.59 L405.23,84.34 L407.63,78.10 L410.03,71.86 L412.44,65.62 Z" fill="#c2ff63"/><path d="M416.39,67.15 L413.98,73.38 L411.58,79.62 L409.18,85.86 L406.79,92.10 L404.41,98.34 L402.04,104.59 L404.29,105.45 L406.66,99.20 L409.04,92.96 L411.43,86.72 L413.83,80.48 L416.23,74.25 L418.64,68.02 Z" fill="#79b221"/></g>
<g clip-path="url(#c5)"><path d="M416.77,67.29 L414.36,73.53 L411.96,79.76 L409.56,86.00 L407.18,92.24 L404.79,98.49 L402.42,104.74 L410.88,107.95 L413.25,101.71 L415.63,95.47 L418.01,89.24 L420.41,83.01 L422.81,76.78 L425.21,70.56 Z" fill="#228b22"/><path d="M416.77,67.29 L414.36,73.53 L411.96,79.76 L409.56,86.00 L407.18,92.24 L404.79,98.49 L402.42,104.74 L404.67,105.59 L407.05,99.35 L409.43,93.10 L411.81,86.86 L414.21,80.63 L416.61,74.39 L419.02,68.16 Z" fill="#59a859"/><path d="M422.96,69.69 L420.56,75.92 L418.16,82.15 L415.76,88.38 L413.38,94.61 L411.00,100.85 L408.63,107.09 L410.88,107.95 L413.25,101.71 L415.63,95.47 L418.01,89.24 L420.41,83.01 L422.81,76.78 L425.21,70.56 Z" fill="#186118"/></g>
<g clip-path="url(#c6)"><path d="M355.29,82.23 L353.12,87.96 L350.95,93.68 L348.79,99.41 L346.63,105.14 L344.48,110.87 L342.34,116.60 L340.20,122.34 L338.06,128.08 L335.94,133.82 L333.81,139.56 L331.70,145.30 L329.59,151.05 L327.48,156.80 L325.39,162.55 L323.29,168.30 L321.20,174.06 L319.12,179.81 L333.98,185.18 L336.06,179.44 L338.14,173.70 L340.23,167.96 L342.32,162.22 L344.42,156.49 L346.53,150.76 L348.64,145.03 L350.75,139.30 L352.88,133.57 L355.00,127.85 L357.14,122.13 L359.28,116.41 L361.42,110.69 L363.57,104.98 L365.73,99.27 L367.89,93.56 L370.06,87.85 Z" fill="#ff0000"/><path d="M355.29,82.23 L353.12,87.96 L350.95,93.68 L348.79,99.41 L346.63,105.14 L344.48,110.87 L342.34,116.60 L340.20,122.34 L338.06,128.08 L335.94,133.82 L333.81,139.56 L331.70,145.30 L329.59,151.05 L327.48,156.80 L325.39,162.55 L323.29,168.30 L321.20,174.06 L319.12,179.81 L322.66,181.09 L324.74,175.34 L326.83,169.58 L328.92,163.84 L331.02,158.09 L333.12,152.34 L335.23,146.60 L337.34,140.86 L339.46,135.12 L341.59,129.38 L343.72,123.65 L345.86,117.92 L348.00,112.19 L350.15,106.46 L352.30,100.73 L354.47,95.01 L356.63,89.29 L358.80,83.57 Z" fill="#ff4040"/><path d="M333.98,185.18 L336.05,179.47 L338.12,173.77 L340.19,168.07 L342.27,162.37 L344.35,156.68 L346.44,150.98 L348.54,145.29 L350.64,139.60 L352.75,133.91 L354.86,128.23 L356.98,122.54 L359.11,116.86 L361.24,111.18 L363.37,105.50 L365.51,99.83 L360.18,91.60 L358.46,93.48 L361.96,98.59 L361.96,98.59 L359.82,104.26 L357.69,109.94 L355.56,115.62 L353.44,121.29 L351.32,126.98 L349.20,132.66 L347.10,138.34 L345.00,144.03 L342.90,149.72 L340.81,155.41 L338.73,161.11 L336.65,166.80 L334.58,172.50 L332.51,178.20 L330.45,183.90 Z" fill="#b20000"/></g>
<g clip-path="url(#c7)"><path d="M338.65,75.91 L336.47,81.64 L334.30,87.39 L332.13,93.13 L329.97,98.88 L327.81,104.62 L325.66,110.37 L323.52,116.13 L321.38,121.88 L319.24,127.64 L317.11,133.40 L314.99,139.16 L312.88,144.92 L310.77,150.69 L308.66,156.45 L306.56,162.22 L304.47,168.00 L302.38,173.77 L317.34,179.17 L319.42,173.41 L321.51,167.65 L323.60,161.90 L325.70,156.15 L327.80,150.40 L329.92,144.65 L332.03,138.90 L334.15,133.16 L336.28,127.42 L338.42,121.68 L340.56,115.94 L342.70,110.20 L344.85,104.47 L347.01,98.74 L349.17,93.01 L351.34,87.28 L353.51,81.56 Z" fill="#646464"/><path d="M338.65,75.91 L336.47,81.64 L334.30,87.39 L332.13,93.13 L329.97,98.88 L327.81,104.62 L325.66,110.37 L323.52,116.13 L321.38,121.88 L319.24,127.64 L317.11,133.40 L314.99,139.16 L312.88,144.92 L310.77,150.69 L308.66,156.45 L306.56,162.22 L304.47,168.00 L302.38,173.77 L305.94,175.05 L308.02,169.28 L310.11,163.51 L312.21,157.75 L314.32,151.98 L316.42,146.22 L318.54,140.46 L320.66,134.71 L322.79,128.95 L324.92,123.20 L327.06,117.45 L329.20,111.70 L331.35,105.95 L333.51,100.21 L335.67,94.46 L337.83,88.72 L340.01,82.99 L342.18,77.25 Z" fill="#8b8b8b"/><path d="M349.98,80.21 L347.80,85.94 L345.63,91.67 L343.47,97.40 L341.31,103.14 L339.16,108.88 L337.01,114.62 L334.87,120.36 L332.74,126.10 L330.61,131.85 L328.49,137.59 L326.37,143.34 L324.26,149.09 L322.15,154.85 L320.05,160.60 L317.95,166.36 L315.86,172.12 L313.78,177.88 L317.34,179.17 L319.42,173.41 L321.51,167.65 L323.60,161.90 L325.70,156.15 L327.80,150.40 L329.92,144.65 L332.03,138.90 L334.15,133.16 L336.28,127.42 L338.42,121.68 L340.56,115.94 L342.70,110.20 L344.85,104.47 L347.01,98.74 L349.17,93.01 L351.34,87.28 L353.51,81.56 Z" fill="#464646"/></g>
<g clip-path="url(#c8)"><path d="M324.15,165.94 L322.02,171.81 L319.89,177.68 L317.78,183.55 L315.66,189.42 L313.56,195.30 L311.46,201.17 L309.36,207.05 L307.28,212.93 L305.19,218.82 L303.12,224.70 L301.05,230.59 L298.98,236.48 L296.92,242.37 L294.87,248.27 L292.83,254.16 L290.78,260.06 L288.75,265.96 L286.72,271.86 L284.70,277.77 L282.68,283.67 L280.67,289.58 L295.63,294.66 L297.64,288.77 L299.65,282.88 L301.67,276.99 L303.69,271.10 L305.72,265.22 L307.75,259.34 L309.80,253.45 L311.84,247.58 L313.90,241.70 L315.95,235.82 L318.02,229.95 L320.09,224.08 L322.17,218.21 L324.25,212.35 L326.34,206.48 L328.43,200.62 L330.53,194.76 L332.64,188.90 L334.75,183.05 L336.87,177.19 L339.00,171.34 Z" fill="#ff0000"/><path d="M324.15,165.94 L322.02,171.81 L319.89,177.68 L317.78,183.55 L315.66,189.42 L313.56,195.30 L311.46,201.17 L309.36,207.05 L307.28,212.93 L305.19,218.82 L303.12,224.70 L301.05,230.59 L298.98,236.48 L296.92,242.37 L294.87,248.27 L292.83,254.16 L290.78,260.06 L288.75,265.96 L286.72,271.86 L284.70,277.77 L282.68,283.67 L280.67,289.58 L284.23,290.79 L286.24,284.89 L288.26,278.98 L290.28,273.08 L292.31,267.18 L294.34,261.29 L296.38,255.39 L298.42,249.50 L300.47,243.61 L302.53,237.72 L304.59,231.84 L306.66,225.95 L308.74,220.07 L310.82,214.19 L312.91,208.31 L315.00,202.44 L317.10,196.56 L319.20,190.69 L321.31,184.82 L323.43,178.96 L325.55,173.09 L327.68,167.23 Z" fill="#ff4040"/><path d="M295.63,294.66 L297.63,288.79 L299.64,282.92 L301.65,277.04 L303.67,271.18 L305.69,265.31 L307.72,259.44 L309.75,253.58 L311.79,247.72 L313.84,241.86 L315.89,236.00 L317.95,230.15 L320.01,224.30 L322.08,218.45 L324.16,212.60 L326.24,206.75 L328.33,200.91 L330.42,195.07 L332.53,189.23 L334.63,183.39 L329.18,175.24 L327.48,177.14 L331.06,182.20 L331.06,182.20 L328.96,188.04 L326.86,193.88 L324.76,199.72 L322.68,205.56 L320.59,211.41 L318.52,217.25 L316.45,223.10 L314.38,228.95 L312.33,234.81 L310.27,240.66 L308.23,246.52 L306.19,252.38 L304.15,258.24 L302.13,264.11 L300.10,269.97 L298.09,275.84 L296.08,281.71 L294.07,287.58 L292.07,293.45 Z" fill="#b20000"/></g>
<g clip-path="url(#c9)"><path d="M285.63,275.05 L283.59,281.01 L281.56,286.97 L279.53,292.94 L277.52,298.91 L275.50,304.88 L273.49,310.85 L271.49,316.82 L269.50,322.80 L267.51,328.78 L282.50,333.76 L284.49,327.79 L286.48,321.83 L288.47,315.88 L290.48,309.92 L292.48,303.96 L294.50,298.01 L296.52,292.06 L298.55,286.11 L300.58,280.17 Z" fill="#ff0000"/><path d="M285.63,275.05 L283.59,281.01 L281.56,286.97 L279.53,292.94 L277.52,298.91 L275.50,304.88 L273.49,310.85 L271.49,316.82 L269.50,322.80 L267.51,328.78 L271.08,329.96 L273.07,323.99 L275.06,318.02 L277.06,312.05 L279.07,306.08 L281.08,300.11 L283.10,294.15 L285.12,288.19 L287.15,282.23 L289.19,276.27 Z" fill="#ff4040"/><path d="M282.50,333.76 L284.48,327.83 L286.46,321.90 L288.44,315.97 L290.43,310.05 L292.43,304.13 L294.43,298.21 L296.44,292.29 L290.83,284.25 L289.18,286.18 L292.85,291.18 L292.85,291.18 L290.84,297.08 L288.84,302.99 L286.85,308.90 L284.86,314.82 L282.88,320.73 L280.91,326.65 L278.94,332.57 Z" fill="#b20000"/></g>
<g clip-path="url(#c10)"><path d="M268.79,269.28 L266.75,275.26 L264.71,281.24 L262.68,287.23 L260.65,293.21 L258.63,299.20 L256.62,305.19 L254.61,311.18 L252.61,317.17 L250.62,323.17 L265.71,328.18 L267.70,322.20 L269.69,316.22 L271.69,310.24 L273.70,304.27 L275.72,298.30 L277.74,292.33 L279.76,286.36 L281.79,280.40 L283.83,274.43 Z" fill="#646464"/><path d="M268.79,269.28 L266.75,275.26 L264.71,281.24 L262.68,287.23 L260.65,293.21 L258.63,299.20 L256.62,305.19 L254.61,311.18 L252.61,317.17 L250.62,323.17 L254.20,324.36 L256.20,318.37 L258.20,312.38 L260.20,306.39 L262.21,300.40 L264.23,294.42 L266.26,288.44 L268.29,282.46 L270.32,276.48 L272.37,270.51 Z" fill="#8b8b8b"/><path d="M280.26,273.21 L278.22,279.18 L276.18,285.15 L274.16,291.12 L272.13,297.09 L270.12,303.06 L268.11,309.04 L266.11,315.02 L264.11,321.00 L262.12,326.99 L265.71,328.18 L267.70,322.20 L269.69,316.22 L271.69,310.24 L273.70,304.27 L275.72,298.30 L277.74,292.33 L279.76,286.36 L281.79,280.40 L283.83,274.43 Z" fill="#464646"/></g>
<g clip-path="url(#c11)"><path d="M268.68,325.25 L266.63,331.42 L264.59,337.59 L262.55,343.77 L260.52,349.94 L258.50,356.12 L256.48,362.30 L254.47,368.48 L252.47,374.67 L250.47,380.85 L265.51,385.70 L267.50,379.53 L269.50,373.36 L271.51,367.19 L273.52,361.03 L275.54,354.87 L277.56,348.71 L279.59,342.55 L281.63,336.40 L283.67,330.24 Z" fill="#ff0000"/><path d="M268.68,325.25 L266.63,331.42 L264.59,337.59 L262.55,343.77 L260.52,349.94 L258.50,356.12 L256.48,362.30 L254.47,368.48 L252.47,374.67 L250.47,380.85 L254.05,382.01 L256.05,375.82 L258.05,369.64 L260.06,363.47 L262.07,357.29 L264.10,351.12 L266.12,344.94 L268.16,338.77 L270.20,332.61 L272.25,326.44 Z" fill="#ff4040"/><path d="M265.51,385.70 L267.51,379.51 L269.51,373.32 L271.53,367.13 L273.54,360.95 L275.57,354.76 L277.60,348.58 L279.64,342.40 L273.97,334.41 L272.32,336.35 L276.04,341.32 L276.04,341.32 L274.00,347.49 L271.98,353.66 L269.95,359.83 L267.94,366.01 L265.93,372.18 L263.93,378.36 L261.93,384.55 Z" fill="#b20000"/></g>
<g clip-path="url(#c12)"><path d="M251.79,319.63 L249.74,325.81 L247.69,331.99 L245.66,338.17 L243.62,344.35 L241.60,350.54 L239.58,356.72 L237.57,362.91 L235.56,369.11 L233.56,375.30 L242.08,378.04 L244.08,371.86 L246.08,365.68 L248.09,359.50 L250.10,353.32 L252.13,347.14 L254.16,340.97 L256.19,334.80 L258.23,328.63 L260.28,322.46 Z" fill="#ff8c00"/><path d="M251.79,319.63 L249.74,325.81 L247.69,331.99 L245.66,338.17 L243.62,344.35 L241.60,350.54 L239.58,356.72 L237.57,362.91 L235.56,369.11 L233.56,375.30 L235.84,376.03 L237.83,369.84 L239.84,363.65 L241.85,357.46 L243.87,351.28 L245.89,345.10 L247.93,338.92 L249.96,332.74 L252.01,326.56 L254.06,320.39 Z" fill="#ffa940"/><path d="M258.02,321.70 L255.97,327.87 L253.92,334.05 L251.89,340.22 L249.86,346.40 L247.83,352.58 L245.82,358.76 L243.81,364.94 L241.80,371.12 L239.80,377.31 L242.08,378.04 L244.08,371.86 L246.08,365.68 L248.09,359.50 L250.10,353.32 L252.13,347.14 L254.16,340.97 L256.19,334.80 L258.23,328.63 L260.28,322.46 Z" fill="#b26200"/></g>
<g clip-path="url(#c13)"><path d="M258.39,321.83 L256.34,328.00 L254.29,334.17 L252.26,340.34 L250.23,346.52 L248.20,352.70 L246.19,358.88 L244.18,365.06 L242.17,371.24 L240.18,377.43 L248.69,380.18 L250.69,374.00 L252.69,367.82 L254.70,361.65 L256.71,355.48 L258.73,349.31 L260.76,343.14 L262.79,336.98 L264.83,330.81 L266.88,324.65 Z" fill="#33cc33"/><path d="M258.39,321.83 L256.34,328.00 L254.29,334.17 L252.26,340.34 L250.23,346.52 L248.20,352.70 L246.19,358.88 L244.18,365.06 L242.17,371.24 L240.18,377.43 L242.45,378.16 L244.45,371.98 L246.45,365.80 L248.46,359.62 L250.48,353.44 L252.50,347.26 L254.53,341.09 L256.56,334.92 L258.61,328.75 L260.65,322.58 Z" fill="#66d966"/><path d="M264.61,323.90 L262.56,330.06 L260.52,336.23 L258.49,342.39 L256.46,348.56 L254.44,354.73 L252.42,360.91 L250.42,367.08 L248.41,373.26 L246.42,379.44 L248.69,380.18 L250.69,374.00 L252.69,367.82 L254.70,361.65 L256.71,355.48 L258.73,349.31 L260.76,343.14 L262.79,336.98 L264.83,330.81 L266.88,324.65 Z" fill="#248f24"/></g>
<g clip-path="url(#c14)"><path d="M278.82,382.22 L276.83,388.40 L274.84,394.58 L272.86,400.77 L270.88,406.95 L268.91,413.14 L266.95,419.33 L282.01,424.10 L283.97,417.92 L285.93,411.75 L287.90,405.58 L289.88,399.41 L291.87,393.25 L293.86,387.09 Z" fill="#0000ff"/><path d="M278.82,382.22 L276.83,388.40 L274.84,394.58 L272.86,400.77 L270.88,406.95 L268.91,413.14 L266.95,419.33 L270.53,420.46 L272.49,414.28 L274.46,408.09 L276.44,401.91 L278.42,395.73 L280.41,389.55 L282.40,383.38 Z" fill="#4040ff"/><path d="M293.86,387.09 L293.86,387.09 L291.85,393.30 L289.85,399.51 L287.86,405.72 L285.87,411.94 L276.59,415.06 L276.40,412.53 L282.32,410.71 L282.32,410.71 L284.30,404.51 L286.29,398.31 L288.28,392.12 L290.28,385.93 Z" fill="#0000b2"/></g>
<g clip-path="url(#c15)"><path d="M271.73,404.29 L269.89,410.07 L268.05,415.85 L266.22,421.64 L264.39,427.42 L262.57,433.21 L260.76,439.00 L258.95,444.79 L257.15,450.59 L255.35,456.38 L253.56,462.18 L251.77,467.98 L249.99,473.78 L248.22,479.58 L246.45,485.38 L244.69,491.19 L242.93,497.00 L241.18,502.81 L239.44,508.62 L237.70,514.43 L235.97,520.25 L234.24,526.06 L232.52,531.88 L230.80,537.70 L229.09,543.52 L227.39,549.35 L225.69,555.17 L224.00,561.00 L222.31,566.83 L220.63,572.66 L218.95,578.49 L234.14,582.84 L235.81,577.03 L237.49,571.21 L239.17,565.40 L240.86,559.59 L242.55,553.78 L244.25,547.97 L245.96,542.16 L247.67,536.36 L249.39,530.55 L251.11,524.75 L252.84,518.95 L254.57,513.16 L256.31,507.36 L258.06,501.56 L259.81,495.77 L261.57,489.98 L263.33,484.19 L265.10,478.40 L266.88,472.62 L268.66,466.83 L270.44,461.05 L272.24,455.27 L274.03,449.49 L275.84,443.72 L277.65,437.94 L279.46,432.17 L281.28,426.40 L283.11,420.63 L284.94,414.86 L286.78,409.09 Z" fill="#0000ff"/><path d="M271.73,404.29 L269.89,410.07 L268.05,415.85 L266.22,421.64 L264.39,427.42 L262.57,433.21 L260.76,439.00 L258.95,444.79 L257.15,450.59 L255.35,456.38 L253.56,462.18 L251.77,467.98 L249.99,473.78 L248.22,479.58 L246.45,485.38 L244.69,491.19 L242.93,497.00 L241.18,502.81 L239.44,508.62 L237.70,514.43 L235.97,520.25 L234.24,526.06 L232.52,531.88 L230.80,537.70 L229.09,543.52 L227.39,549.35 L225.69,555.17 L224.00,561.00 L222.31,566.83 L220.63,572.66 L218.95,578.49 L222.57,579.52 L224.24,573.70 L225.92,567.87 L227.61,562.04 L229.30,556.22 L231.00,550.40 L232.70,544.58 L234.41,538.76 L236.12,532.95 L237.84,527.13 L239.57,521.32 L241.30,515.51 L243.04,509.70 L244.78,503.89 L246.53,498.08 L248.29,492.28 L250.05,486.48 L251.82,480.68 L253.59,474.88 L255.37,469.08 L257.15,463.29 L258.94,457.49 L260.74,451.70 L262.54,445.91 L264.35,440.12 L266.16,434.34 L267.98,428.55 L269.80,422.77 L271.63,416.99 L273.47,411.21 L275.31,405.43 Z" fill="#4040ff"/><path d="M286.78,409.09 L286.78,409.09 L284.95,414.84 L283.12,420.58 L281.30,426.33 L279.49,432.08 L277.68,437.83 L275.88,443.58 L274.08,449.34 L272.29,455.09 L270.51,460.85 L268.73,466.61 L266.95,472.37 L265.18,478.14 L263.42,483.90 L261.66,489.67 L259.91,495.44 L258.17,501.21 L256.43,506.98 L254.69,512.75 L252.97,518.53 L251.24,524.31 L249.53,530.09 L247.82,535.87 L246.11,541.65 L244.41,547.43 L242.72,553.22 L241.03,559.01 L239.35,564.80 L237.67,570.59 L228.48,573.95 L228.22,571.43 L234.08,569.45 L234.08,569.45 L235.76,563.66 L237.44,557.87 L239.13,552.08 L240.83,546.29 L242.53,540.51 L244.23,534.73 L245.94,528.95 L247.66,523.17 L249.38,517.39 L251.11,511.61 L252.84,505.84 L254.58,500.07 L256.33,494.30 L258.08,488.53 L259.84,482.76 L261.60,477.00 L263.37,471.23 L265.14,465.47 L266.92,459.71 L268.71,453.95 L270.50,448.20 L272.30,442.44 L274.10,436.69 L275.91,430.94 L277.72,425.19 L279.54,419.44 L281.37,413.69 L283.20,407.95 Z" fill="#0000b2"/></g>
<g clip-path="url(#c16)"><path d="M288.44,409.83 L286.59,415.61 L284.76,421.39 L282.93,427.17 L281.10,432.95 L279.29,438.73 L277.47,444.52 L275.67,450.31 L273.87,456.10 L272.07,461.89 L270.28,467.68 L268.50,473.48 L266.72,479.27 L264.95,485.07 L263.18,490.87 L261.42,496.67 L259.66,502.48 L257.92,508.28 L256.17,514.09 L254.44,519.90 L252.70,525.71 L250.98,531.52 L249.26,537.34 L247.54,543.15 L245.84,548.97 L244.13,554.79 L242.44,560.61 L240.74,566.44 L239.06,572.26 L237.38,578.09 L235.71,583.91 L251.18,588.35 L252.85,582.54 L254.53,576.73 L256.21,570.92 L257.89,565.11 L259.59,559.30 L261.29,553.50 L262.99,547.70 L264.70,541.90 L266.41,536.10 L268.14,530.30 L269.86,524.51 L271.60,518.71 L273.33,512.92 L275.08,507.13 L276.83,501.34 L278.58,495.56 L280.35,489.77 L282.11,483.99 L283.89,478.21 L285.67,472.43 L287.45,466.65 L289.24,460.87 L291.04,455.10 L292.84,449.33 L294.65,443.55 L296.46,437.79 L298.28,432.02 L300.10,426.25 L301.94,420.49 L303.77,414.73 Z" fill="#33cc33"/><path d="M288.44,409.83 L286.59,415.61 L284.76,421.39 L282.93,427.17 L281.10,432.95 L279.29,438.73 L277.47,444.52 L275.67,450.31 L273.87,456.10 L272.07,461.89 L270.28,467.68 L268.50,473.48 L266.72,479.27 L264.95,485.07 L263.18,490.87 L261.42,496.67 L259.66,502.48 L257.92,508.28 L256.17,514.09 L254.44,519.90 L252.70,525.71 L250.98,531.52 L249.26,537.34 L247.54,543.15 L245.84,548.97 L244.13,554.79 L242.44,560.61 L240.74,566.44 L239.06,572.26 L237.38,578.09 L235.71,583.91 L239.38,584.97 L241.05,579.14 L242.73,573.32 L244.41,567.50 L246.10,561.68 L247.80,555.86 L249.50,550.05 L251.21,544.23 L252.92,538.42 L254.64,532.61 L256.36,526.80 L258.10,520.99 L259.83,515.19 L261.57,509.38 L263.32,503.58 L265.08,497.78 L266.83,491.98 L268.60,486.19 L270.37,480.39 L272.15,474.60 L273.93,468.81 L275.72,463.02 L277.51,457.23 L279.31,451.44 L281.12,445.66 L282.93,439.88 L284.75,434.10 L286.57,428.32 L288.40,422.54 L290.23,416.77 L292.07,410.99 Z" fill="#66d966"/><path d="M300.13,413.57 L298.30,419.33 L296.46,425.10 L294.64,430.87 L292.82,436.64 L291.00,442.41 L289.19,448.19 L287.39,453.96 L285.59,459.74 L283.80,465.52 L282.02,471.30 L280.23,477.08 L278.46,482.87 L276.69,488.66 L274.93,494.44 L273.17,500.23 L271.42,506.03 L269.68,511.82 L267.94,517.62 L266.20,523.41 L264.47,529.21 L262.75,535.01 L261.03,540.82 L259.32,546.62 L257.62,552.43 L255.92,558.23 L254.23,564.04 L252.54,569.85 L250.86,575.67 L249.18,581.48 L247.51,587.30 L251.18,588.35 L252.85,582.54 L254.53,576.73 L256.21,570.92 L257.89,565.11 L259.59,559.30 L261.29,553.50 L262.99,547.70 L264.70,541.90 L266.41,536.10 L268.14,530.30 L269.86,524.51 L271.60,518.71 L273.33,512.92 L275.08,507.13 L276.83,501.34 L278.58,495.56 L280.35,489.77 L282.11,483.99 L283.89,478.21 L285.67,472.43 L287.45,466.65 L289.24,460.87 L291.04,455.10 L292.84,449.33 L294.65,443.55 L296.46,437.79 L298.28,432.02 L300.10,426.25 L301.94,420.49 L303.77,414.73 Z" fill="#248f24"/></g>
<g clip-path="url(#c17)"><path d="M223.16,563.90 L221.40,569.99 L219.64,576.09 L217.89,582.19 L216.15,588.29 L214.42,594.39 L212.69,600.49 L227.89,604.79 L229.62,598.70 L231.35,592.62 L233.08,586.53 L234.83,580.45 L236.58,574.37 L238.33,568.29 Z" fill="#0000ff"/><path d="M223.16,563.90 L221.40,569.99 L219.64,576.09 L217.89,582.19 L216.15,588.29 L214.42,594.39 L212.69,600.49 L216.31,601.51 L218.03,595.41 L219.77,589.32 L221.51,583.22 L223.26,577.12 L225.01,571.03 L226.77,564.94 Z" fill="#4040ff"/><path d="M238.33,568.29 L238.33,568.29 L236.58,574.34 L234.84,580.40 L233.11,586.46 L231.38,592.52 L222.19,595.92 L221.93,593.40 L227.79,591.40 L227.79,591.40 L229.51,585.35 L231.24,579.32 L232.98,573.28 L234.72,567.24 Z" fill="#0000b2"/></g>
<line x1="262.2" y1="102.9" x2="306.8" y2="119.4" stroke="#ff0000" stroke-width="1.05"/>
<line x1="227" y1="200" x2="271.6" y2="216.6" stroke="#ff0000" stroke-width="1.05"/>
<line x1="201.4" y1="276" x2="245.6" y2="291.6" stroke="#ff0000" stroke-width="1.05"/>
<line x1="184.4" y1="328" x2="229" y2="342.4" stroke="#ff0000" stroke-width="1.05"/>
<line x1="460.3" y1="23" x2="505.5" y2="41" stroke="#0000ff" stroke-width="1.05"/>
<line x1="431" y1="94" x2="478" y2="112" stroke="#0000ff" stroke-width="1.05"/>
<line x1="318.4" y1="415" x2="365.6" y2="430.4" stroke="#0000ff" stroke-width="1.05"/>
<line x1="291" y1="505" x2="338" y2="520" stroke="#0000ff" stroke-width="1.05"/>
<text x="453.7" y="43" class="tk">3615 kbp</text>
<text x="432.4" y="98" class="tk">3614 kbp</text>
<text x="411.6" y="154.4" class="tk">3613 kbp</text>
<text x="391.6" y="210" class="tk">3612 kbp</text>
<text x="371.3" y="266.3" class="tk">3611 kbp</text>
<text x="351.5" y="323" class="tk">3610 kbp</text>
<text x="333.5" y="379" class="tk">3609 kbp</text>
<text x="315.6" y="436" class="tk">3608 kbp</text>
<text x="297.6" y="493" class="tk">3607 kbp</text>
<text x="280.3" y="550" class="tk">3606 kbp</text>
<text x="209.6" y="104" class="lb" fill="#ff0000">Daro_3355</text>
<text x="173.6" y="202" class="lb" fill="#ff0000">Daro_3354</text>
<text x="148.6" y="277" class="lb" fill="#ff0000">Daro_3353</text>
<text x="131.6" y="329" class="lb" fill="#ff0000">Daro_3352</text>
<text x="507.5" y="43.6" class="lb" fill="#0000ff">Daro_3357</text>
<text x="479.6" y="114.6" class="lb" fill="#0000ff">Daro_3356</text>
<text x="367.6" y="432.4" class="lb" fill="#0000ff">Daro_3351</text>
<text x="339.6" y="521.6" class="lb" fill="#0000ff">Daro_3350</text>
<rect x="125" y="5" width="351" height="26" fill="#ffffff" fill-opacity="0.77"/>
<rect x="258" y="575" width="336" height="17" fill="#ffffff" fill-opacity="0.77"/>
<text x="130.0" y="23" class="ti" style="letter-spacing:0.667px">Dechloromonas</text>
<text x="242.0" y="23" class="ti" style="letter-spacing:0.625px">aromatica</text>
<text x="313.6" y="23" class="ti" style="letter-spacing:-0.867px">RCB,</text>
<text x="349.0" y="23" class="ti" style="letter-spacing:0.571px">complete</text>
<text x="415.6" y="23" class="ti" style="letter-spacing:0.88px">genome</text>
<text x="9.35" y="587" class="ft" style="letter-spacing:0.106px">Accession:</text>
<text x="72.9" y="587" class="ft" style="letter-spacing:0.787px">NC_007298</text>
<text x="261.3" y="587" class="ft" style="letter-spacing:0.612px">Topology:</text>
<text x="323.0" y="587" class="ft" style="letter-spacing:0.3px">circular;</text>
<text x="371.4" y="587" class="ft" style="letter-spacing:-0.133px">Length:</text>
<text x="419.0" y="587" class="ft" style="letter-spacing:1.125px">4,501,104</text>
<text x="485.4" y="587" class="ft" style="letter-spacing:1.3px">bp;</text>
<text x="510.8" y="587" class="ft" style="letter-spacing:-0.1px">Genes:</text>
<text x="554.7" y="587" class="ft" style="letter-spacing:1.375px">4,249</text>
</svg></body></html>
